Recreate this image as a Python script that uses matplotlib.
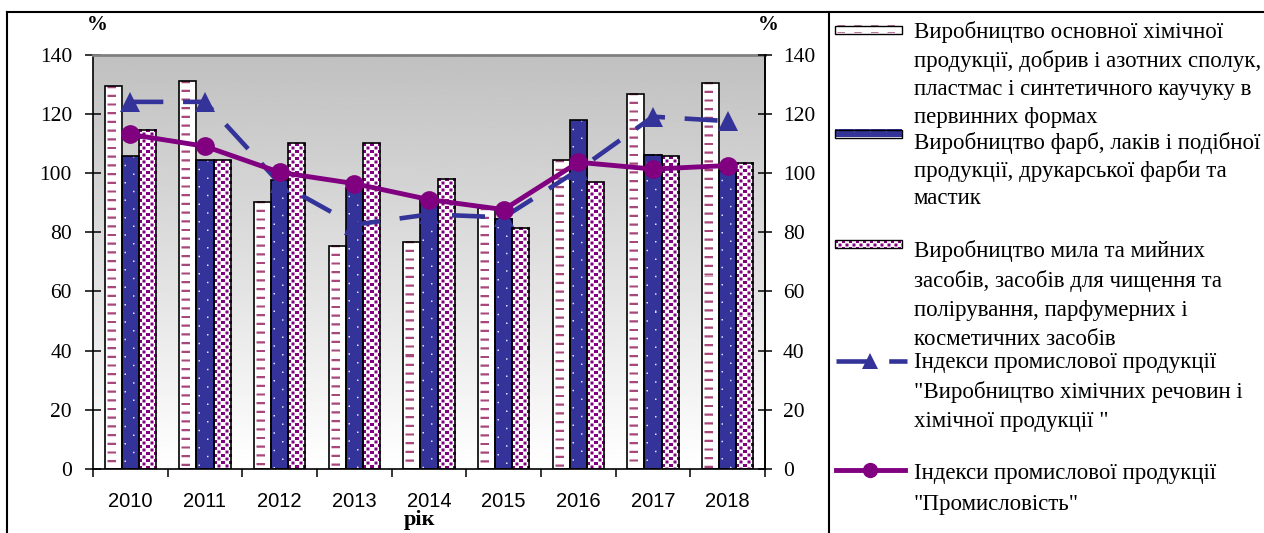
import numpy as np
import matplotlib
matplotlib.use("Agg")
import matplotlib.pyplot as plt
from matplotlib.lines import Line2D
from matplotlib.patches import Rectangle

plt.rcParams['font.family'] = ['Liberation Serif', 'DejaVu Serif']

years = ['2010', '2011', '2012', '2013', '2014', '2015', '2016', '2017', '2018']
basic_chem = [129.3, 131.0, 90.2, 75.4, 76.7, 88.0, 104.2, 126.7, 130.4]
paints = [105.6, 104.3, 97.5, 95.0, 92.0, 84.5, 117.8, 106.2, 100.5]
soap = [114.6, 104.2, 110.1, 110.1, 98.0, 81.4, 96.8, 105.6, 103.4]
chem_index = [124.0, 124.0, 96.5, 82.5, 86.0, 85.0, 101.0, 119.0, 117.5]
industry_index = [113.0, 109.0, 100.2, 96.4, 91.0, 87.6, 103.6, 101.3, 102.5]

legend_texts = [
    ["Виробництво основної хімічної",
     "продукції, добрив і азотних сполук,",
     "пластмас і синтетичного каучуку в",
     "первинних формах"],
    ["Виробництво фарб, лаків і подібної",
     "продукції, друкарської фарби та",
     "мастик"],
    ["Виробництво мила та мийних",
     "засобів, засобів для чищення та",
     "полірування, парфумерних і",
     "косметичних засобів"],
    ["Індекси промислової продукції",
     "\"Виробництво хімічних речовин і",
     "хімічної продукції \""],
    ["Індекси промислової продукції",
     "\"Промисловість\""],
]

NAVY = '#333399'
PURPLE = '#800080'
PINK = '#a8487a'

W, H = 1264, 533
L, R, T, B = 93, 765, 54.5, 469


def texture(kind, w, h, yoff=0.0):
    """Pixel pattern (RGB array h x w) used to fill bars and legend keys."""
    s = 4
    yy, xx = (np.mgrid[0:h * s, 0:w * s] + 0.5) / s
    yy = yy + yoff
    if kind == 'dash':
        base, ink = np.array([1.0, 1.0, 1.0]), np.array(matplotlib.colors.to_rgb(PINK))
        mask = ((yy % 8.7) < 2.2) & ((xx % 16.7) > 2.5) & ((xx % 16.7) < 10)
    elif kind == 'dots':
        base, ink = np.array(matplotlib.colors.to_rgb(NAVY)), np.array([0.9, 0.9, 1.0])
        a = ((yy % 17.4) < 1.5) & ((xx % 16) > 10) & ((xx % 16) < 11.5)
        b = (((yy + 8.7) % 17.4) < 1.5) & ((xx % 16) > 2.5) & ((xx % 16) < 4)
        mask = a | b
    else:
        base, ink = np.array([1.0, 1.0, 1.0]), np.array(matplotlib.colors.to_rgb(PURPLE))
        a = ((xx % 7) < 3) & ((yy % 7) < 3)
        b = (((xx + 3.5) % 7) < 3) & (((yy + 3.5) % 7) < 3)
        mask = a | b
    m = mask.astype(float).reshape(h, s, w, s).mean(axis=(1, 3))[..., None]
    return base * (1 - m) + ink * m


fig = plt.figure(figsize=(W / 100, H / 100), dpi=100)

# overlay in pixel coordinates for frame and legend
ov = fig.add_axes([0, 0, 1, 1])
ov.set_xlim(0, W)
ov.set_ylim(H, 0)
ov.axis('off')

ax = fig.add_axes([L / W, 1 - B / H, (R - L) / W, (B - T) / H])
x = np.arange(len(years))
ax.imshow(np.linspace(0.753, 1.0, 256)[:, None], cmap='gray', vmin=0, vmax=1,
          extent=(-0.5, 8.5, 0, 140), aspect='auto', zorder=0)

px_x = (R - L) / 9
px_y = (B - T) / 140
bw = 0.23
series = [(basic_chem, 'dash', -bw), (paints, 'dots', 0.0), (soap, 'checks', bw)]
for vals, kind, off in series:
    for xi, v in zip(x, vals):
        x0 = xi + off - bw / 2
        img = texture(kind, int(round(bw * px_x)), max(1, int(round(v * px_y))))
        ax.imshow(img, extent=(x0, x0 + bw, 0, v), aspect='auto',
                  interpolation='nearest', zorder=2)
    ax.bar(x + off, vals, bw, fill=False, edgecolor='black', linewidth=1.2, zorder=3)

ax.plot(x, chem_index, color=NAVY, lw=3.3, ls=(0, (7.2, 4.3)), marker='^', ms=14,
        markeredgewidth=0, zorder=5)
ax.plot(x, industry_index, color=PURPLE, lw=3.5, marker='o', ms=13.5,
        markeredgewidth=0, zorder=6)

ax.set_xlim(-0.5, 8.5)
ax.set_ylim(0, 140)
ax.set_xticks(np.arange(-0.5, 9, 1))
ax.set_xticklabels([])
ax.set_xticks(x, minor=True)
ax.set_xticklabels(years, minor=True, family='Liberation Sans', fontsize=14.5)
ax.tick_params(axis='x', which='major', direction='out', length=5.8, width=1.1)
ax.tick_params(axis='x', which='minor', length=0, pad=16.5)
ax.set_yticks(range(0, 141, 20))
ax.tick_params(axis='y', direction='inout', length=11.5, width=1.1, pad=9.4,
               labelsize=15.5)
for s in ['left', 'bottom', 'right']:
    ax.spines[s].set_linewidth(1.2)
ax.spines['top'].set_color('#808080')
ax.spines['top'].set_linewidth(2)

ax2 = ax.twinx()
ax2.set_ylim(0, 140)
ax2.set_yticks(range(0, 141, 20))
ax2.tick_params(axis='y', direction='inout', length=10, width=1.1, pad=8,
                labelsize=15.5)
ax2.spines['right'].set_linewidth(1.2)
ax2.spines['top'].set_visible(False)
ax2.spines['left'].set_visible(False)
ax2.spines['bottom'].set_visible(False)

# frame around chart and legend
ov.add_line(Line2D([6.5, 6.5], [11.5, H], color='black', lw=1.5))
ov.add_line(Line2D([6.5, W], [11.5, 11.5], color='black', lw=1.5))
ov.add_line(Line2D([829, 829], [11.5, H], color='black', lw=1.5))

ov.text(97.5, 30, '%', ha='center', va='baseline', fontsize=15, fontweight='bold')
ov.text(768, 30, '%', ha='center', va='baseline', fontsize=15, fontweight='bold')
ov.text(420, 525, 'рік', ha='center', va='baseline', fontsize=16, fontweight='bold')

# legend keys
for (top, kind, yoff) in [(25.5, 'dash', 1.5), (129.5, 'dots', 8.0), (240, 'checks', 0.0)]:
    img = texture(kind, 67, 8, yoff)
    ov.imshow(img, extent=(835, 902, top + 8, top), aspect='auto',
              interpolation='nearest', zorder=2)
    ov.add_patch(Rectangle((835, top), 67, 8, fill=False, edgecolor='black',
                           lw=1, zorder=3))
ov.plot([836, 870, 907], [361, 361, 361], color=NAVY, lw=3.3, ls=(0, (7.2, 4.3)),
        marker='^', ms=12, markevery=[1], markeredgewidth=0)
ov.plot([836, 870, 905], [470, 470, 470], color=PURPLE, lw=3.5,
        marker='o', ms=11, markevery=[1], markeredgewidth=0)
ov.set_xlim(0, W)
ov.set_ylim(H, 0)

baselines = [[38, 67, 95, 123], [149, 177, 204], [257, 287, 316, 345],
             [368, 398, 427], [479, 510]]
for lines, ys in zip(legend_texts, baselines):
    for txt, yb in zip(lines, ys):
        ov.text(914, yb, txt, ha='left', va='baseline', fontsize=16.5)

fig.savefig('out.png', dpi=100)
